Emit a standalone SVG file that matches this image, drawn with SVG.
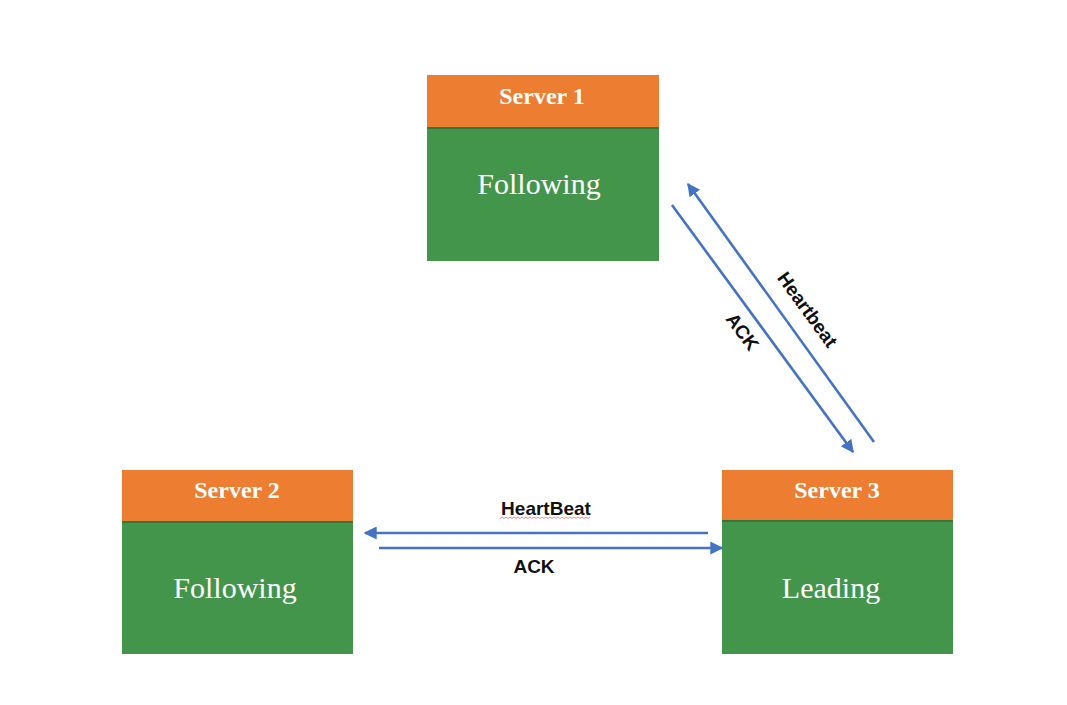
<svg xmlns="http://www.w3.org/2000/svg" width="1067" height="705" viewBox="0 0 1067 705">
<style>
.hdr{fill:#ED7D31}
.body{fill:#43954B}
.sep{stroke:#2F6B36;stroke-width:2;opacity:0.7}
.title{font-family:"Liberation Serif",serif;font-weight:bold;font-size:24px;fill:#FFFFFF;text-anchor:middle}
.state{font-family:"Liberation Serif",serif;font-size:30px;fill:#FFFFFF;text-anchor:middle}
.lbl{font-family:"Liberation Sans",Arial,sans-serif;font-weight:bold;font-size:19px;fill:#111111;text-anchor:middle}
.conn{stroke:#4472C4;stroke-width:2.6;fill:none;marker-end:url(#ah)}
</style>
<defs>
<marker id="ah" viewBox="0 0 10 10" refX="9" refY="5" markerWidth="5" markerHeight="5" orient="auto" markerUnits="strokeWidth">
<path d="M0,0 L10,5 L0,10 Z" fill="#4472C4"/>
</marker>
</defs>
<rect width="1067" height="705" fill="#FFFFFF"/>
<g id="server1">
<rect class="hdr" x="427" y="75" width="232" height="52"/>
<rect class="body" x="427" y="127" width="232" height="134"/>
<line class="sep" x1="427" y1="128" x2="659" y2="128"/>
<text class="title" x="542" y="104">Server 1</text>
<text class="state" x="539" y="194">Following</text>
</g>
<g id="server2">
<rect class="hdr" x="122" y="470" width="231" height="51"/>
<rect class="body" x="122" y="521" width="231" height="133"/>
<line class="sep" x1="122" y1="522" x2="353" y2="522"/>
<text class="title" x="237" y="498">Server 2</text>
<text class="state" x="235" y="598">Following</text>
</g>
<g id="server3">
<rect class="hdr" x="722" y="470" width="231" height="50"/>
<rect class="body" x="722" y="520" width="231" height="134"/>
<line class="sep" x1="722" y1="521" x2="953" y2="521"/>
<text class="title" x="837" y="498">Server 3</text>
<text class="state" x="831" y="598">Leading</text>
</g>
<g id="connectors">
<line class="conn" x1="874" y1="442" x2="688" y2="184"/>
<line class="conn" x1="672" y1="205" x2="853" y2="452"/>
<line class="conn" x1="708" y1="533" x2="365" y2="533"/>
<line class="conn" x1="379" y1="548" x2="722" y2="548"/>
<text class="lbl" transform="translate(807,310) rotate(54)" y="6">Heartbeat</text>
<text class="lbl" transform="translate(742,332) rotate(54)" y="6">ACK</text>
<text class="lbl" x="546" y="515">HeartBeat</text>
<path d="M500,518.5 l2,-1.5 l2,1.5 l2,-1.5 l2,1.5 l2,-1.5 l2,1.5 l2,-1.5 l2,1.5 l2,-1.5 l2,1.5 l2,-1.5 l2,1.5 l2,-1.5 l2,1.5 l2,-1.5 l2,1.5 l2,-1.5 l2,1.5 l2,-1.5 l2,1.5 l2,-1.5 l2,1.5 l2,-1.5 l2,1.5 l2,-1.5 l2,1.5 l2,-1.5 l2,1.5 l2,-1.5 l2,1.5 l2,-1.5 l2,1.5 l2,-1.5 l2,1.5 l2,-1.5 l2,1.5 l2,-1.5 l2,1.5 l2,-1.5 l2,1.5 l2,-1.5 l2,1.5 l2,-1.5 l2,1.5 l2,-1.5" fill="none" stroke="#E03030" stroke-width="0.8" opacity="0.7"/>
<text class="lbl" x="534" y="573">ACK</text>
</g>
</svg>
